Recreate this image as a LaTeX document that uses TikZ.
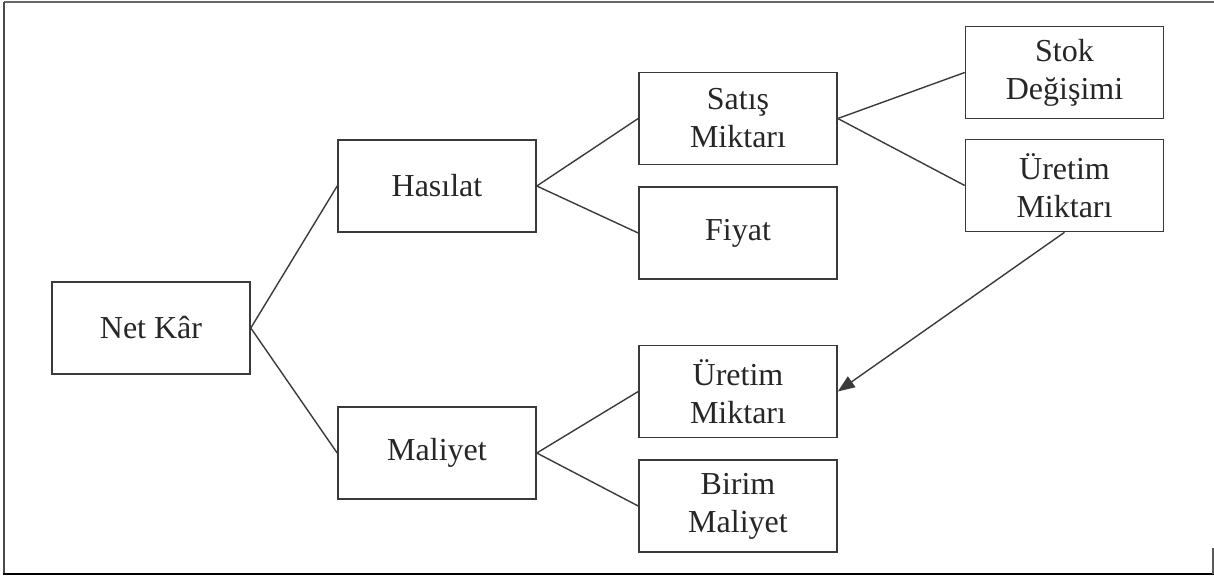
\documentclass[tikz,border=0pt]{standalone}
\usepackage{fontspec}
\setmainfont{Liberation Serif}
\usetikzlibrary{arrows.meta}
\definecolor{linec}{HTML}{3A3A3A}
\tikzset{
  box/.style={draw=linec, line width=1.6pt, rectangle, minimum width=198pt, minimum height=92pt, inner sep=0pt, align=center, font=\fontsize{32}{38}\selectfont, text=black!85},
  conn/.style={draw=linec, line width=1.4pt},
}
\begin{document}
\begin{tikzpicture}[x=1pt,y=-1pt]
\useasboundingbox (0,0) rectangle (1214,576);
% frame
\draw[gray!80!black, line width=2pt] (4,2) -- (1214,2);
\draw[gray!60!black, line width=2pt] (4,2) -- (4,574);
\draw[black, line width=2pt] (3,574) -- (1214,574);
\draw[gray!70!black, line width=1.5pt] (1213,548) -- (1213,574);
% nodes
\node[box] (net) at (151,328) {Net Kâr};
\node[box] (has) at (437,186) {Hasılat};
\node[box] (mal) at (437,453) {Maliyet};
\node[box] (sat) at (738,118.5) {Satış\\Miktarı};
\node[box] (fiy) at (738,233) {Fiyat};
\node[box] (ur2) at (738,391.5) {Üretim\\Miktarı};
\node[box] (bir) at (738,506) {Birim\\Maliyet};
\node[box] (stk) at (1064.5,72.5) {Stok\\Değişimi};
\node[box] (ur1) at (1064.5,185.5) {Üretim\\Miktarı};
% connectors
\draw[conn] (net.east) -- (has.west);
\draw[conn] (net.east) -- (mal.west);
\draw[conn] (has.east) -- (sat.west);
\draw[conn] (has.east) -- (fiy.west);
\draw[conn] (mal.east) -- (ur2.west);
\draw[conn] (mal.east) -- (bir.west);
\draw[conn] (sat.east) -- (stk.west);
\draw[conn] (sat.east) -- (ur1.west);
\draw[conn, -{Triangle[length=17pt,width=13pt]}] (ur1.south) -- (ur2.east);
\end{tikzpicture}
\end{document}
